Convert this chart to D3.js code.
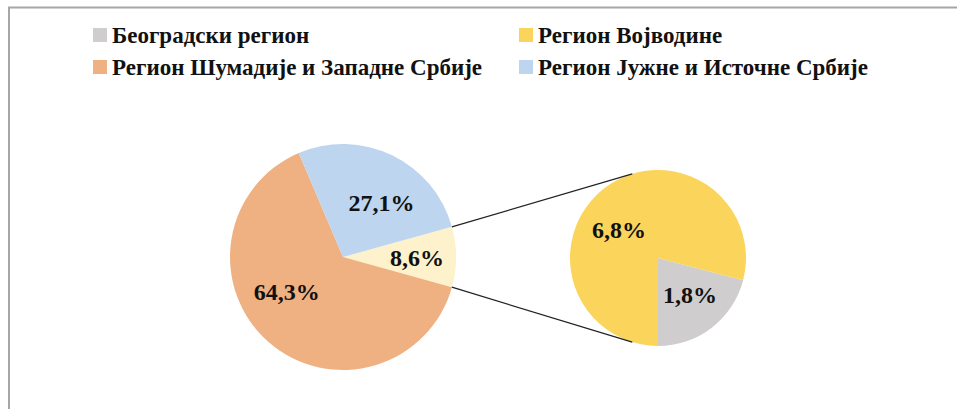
<!DOCTYPE html>
<html>
<head>
<meta charset="utf-8">
<script src="https://cdn.jsdelivr.net/npm/d3@7"></script>
<style>
  body { margin: 0; background: #fff; }
  svg { display: block; }
  text { font-family: 'Liberation Serif', 'Times New Roman', serif; font-weight: bold; fill: #111; }
</style>
</head>
<body>
<svg id="chart" width="957" height="409"></svg>
<script>
// regions in legend order
const categories = ['Београдски регион', 'Регион Војводине', 'Регион Шумадије и Западне Србије', 'Регион Јужне и Источне Србије'];
const values = [1.8, 6.8, 64.3, 27.1];
const colors = ['#cfcdcd', '#fbd55b', '#efb082', '#bdd5ee'];
// which regions are split out into the small pie
const splitRegions = [0, 1];
const otherColor = '#fdf2cc';

const svg = d3.select('#chart');
const fmt = v => d3.format('.1f')(v).replace('.', ',') + '%';

// frame (top and left edges only)
svg.append('line').attr('x1', 8).attr('y1', 7.5).attr('x2', 957).attr('y2', 7.5)
  .attr('stroke', '#a6a6a6').attr('stroke-width', 2);
svg.append('line').attr('x1', 9).attr('y1', 7).attr('x2', 9).attr('y2', 409)
  .attr('stroke', '#a6a6a6').attr('stroke-width', 2);

// legend
const legend = svg.append('g').selectAll('g')
  .data(categories)
  .enter()
  .append('g')
  .attr('transform', function(d, i) {
    return 'translate(' + (i % 2 === 0 ? 93 : 519) + ',' + (28 + Math.floor(i / 2) * 32) + ')';
  });
legend.append('rect')
  .attr('width', 14).attr('height', 14)
  .attr('fill', (d, i) => colors[i]);
legend.append('text')
  .attr('x', 19).attr('y', 7).attr('dy', '0.35em')
  .style('font-size', '23px')
  .text(d => d);

// main pie
const otherValue = d3.sum(splitRegions, i => values[i]);
const mainData = [{ value: otherValue, color: otherColor }]
  .concat([2, 3].map(i => ({ value: values[i], color: colors[i] })));
const total = d3.sum(mainData, d => d.value);
const mainStart = Math.PI / 2 - (otherValue / total) * Math.PI;

const main = { cx: 343, cy: 257, r: 113 };
const mainPie = d3.pie().sort(null).value(d => d.value)
  .startAngle(mainStart).endAngle(mainStart + 2 * Math.PI);
const mainArcs = mainPie(mainData);
const mainArc = d3.arc().innerRadius(0).outerRadius(main.r);
const mainLabel = d3.arc().innerRadius(main.r * 0.62).outerRadius(main.r * 0.62);
// Excel nudges its "best fit" labels a bit off the centroid
const mainNudge = [[4, 1], [-10, -18], [8, 9]];

const gMain = svg.append('g').attr('transform', 'translate(' + main.cx + ',' + main.cy + ')');
gMain.selectAll('path').data(mainArcs).enter().append('path')
  .attr('d', mainArc).attr('fill', d => d.data.color);
gMain.selectAll('text').data(mainArcs).enter().append('text')
  .attr('transform', function(d, i) {
    const c = mainLabel.centroid(d);
    return 'translate(' + (c[0] + mainNudge[i][0]) + ',' + (c[1] + mainNudge[i][1]) + ')';
  })
  .attr('text-anchor', 'middle').attr('dy', '0.35em')
  .style('font-size', '24px')
  .text(d => fmt(d.data.value));

// secondary pie
const subData = splitRegions.map(i => ({ value: values[i], color: colors[i] }));
const subStart = Math.PI - (subData[0].value / otherValue) * 2 * Math.PI;
const sub = { cx: 658, cy: 258, r: 88 };
const subPie = d3.pie().sort(null).value(d => d.value)
  .startAngle(subStart).endAngle(subStart + 2 * Math.PI);
const subArcs = subPie(subData);
const subArc = d3.arc().innerRadius(0).outerRadius(sub.r);
const subLabel = d3.arc().innerRadius(sub.r * 0.56).outerRadius(sub.r * 0.56);
const subNudge = [[2, -2], [-9, 11]];

const gSub = svg.append('g').attr('transform', 'translate(' + sub.cx + ',' + sub.cy + ')');
gSub.selectAll('path').data(subArcs).enter().append('path')
  .attr('d', subArc).attr('fill', d => d.data.color);
gSub.selectAll('text').data(subArcs).enter().append('text')
  .attr('transform', function(d, i) {
    const c = subLabel.centroid(d);
    return 'translate(' + (c[0] + subNudge[i][0]) + ',' + (c[1] + subNudge[i][1]) + ')';
  })
  .attr('text-anchor', 'middle').attr('dy', '0.35em')
  .style('font-size', '24px')
  .text(d => fmt(d.data.value));

// connector lines from the "other" slice edges to the small pie
const polar = (c, a) => [c.cx + c.r * Math.sin(a), c.cy - c.r * Math.cos(a)];
const joinAngle = 17 * Math.PI / 180;
const links = [
  [polar(main, mainArcs[0].startAngle), polar(sub, -joinAngle)],
  [polar(main, mainArcs[0].endAngle), polar(sub, Math.PI + joinAngle)]
];
svg.append('g').selectAll('line').data(links).enter().append('line')
  .attr('x1', d => d[0][0]).attr('y1', d => d[0][1])
  .attr('x2', d => d[1][0]).attr('y2', d => d[1][1])
  .attr('stroke', '#222').attr('stroke-width', 1.2);
</script>
</body>
</html>
